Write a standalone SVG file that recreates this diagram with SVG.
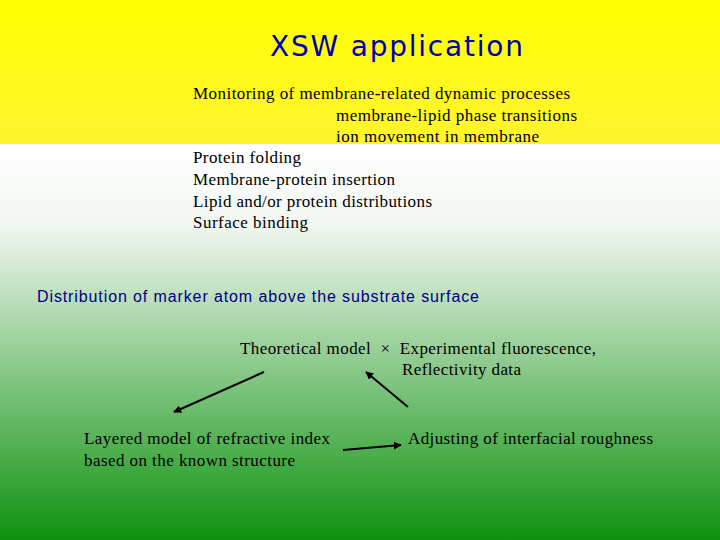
<svg xmlns="http://www.w3.org/2000/svg" width="720" height="540" viewBox="0 0 720 540">
<defs>
<linearGradient id="y" x1="0" y1="0" x2="0" y2="1"><stop offset="0" stop-color="#ffff00"/><stop offset="1" stop-color="#fff430"/></linearGradient>
<linearGradient id="g" x1="0" y1="0" x2="0" y2="1"><stop offset="0" stop-color="#ffffff"/><stop offset="0.2" stop-color="#f2f7f2"/><stop offset="1" stop-color="#0e920e"/></linearGradient>
<marker id="a" viewBox="0 0 10 10" refX="9" refY="5" markerWidth="4" markerHeight="4" orient="auto"><path d="M0,0L10,5L0,10z" fill="#000"/></marker>
</defs>
<style>.t{font-family:"Liberation Serif",serif;font-size:17px;fill:#000}.c{stroke:#000;stroke-width:2;fill:none;marker-end:url(#a)}</style>
<rect width="720" height="144" fill="url(#y)"/>
<rect y="144" width="720" height="396" fill="url(#g)"/>
<text x="270" y="56" textLength="253" lengthAdjust="spacing" font-family="DejaVu Sans, sans-serif" font-size="28" fill="#0000b0">XSW application</text>
<g id="list">
<text x="193" y="99" class="t" textLength="377">Monitoring of membrane-related dynamic processes</text>
<text x="336" y="121" class="t" textLength="241">membrane-lipid phase transitions</text>
<text x="336" y="142" class="t" textLength="203">ion movement in membrane</text>
<text x="193" y="163" class="t" textLength="108">Protein folding</text>
<text x="193" y="185" class="t" textLength="202">Membrane-protein insertion</text>
<text x="193" y="207" class="t" textLength="239">Lipid and/or protein distributions</text>
<text x="193" y="228" class="t" textLength="115">Surface binding</text>
</g>
<text x="37" y="302" textLength="442" font-family="Liberation Sans, sans-serif" font-size="16" fill="#000080">Distribution of marker atom above the substrate surface</text>
<g id="theory"><text x="240" y="354" class="t" textLength="356" xml:space="preserve">Theoretical model  ×  Experimental fluorescence,</text></g>
<g id="refl"><text x="402" y="375" class="t" textLength="119">Reflectivity data</text></g>
<g id="layered"><text x="84" y="444" class="t" textLength="246">Layered model of refractive index</text><text x="84" y="466" class="t" textLength="211">based on the known structure</text></g>
<g id="adjust"><text x="408" y="444" class="t" textLength="245">Adjusting of interfacial roughness</text></g>
<g id="connectors">
<line class="c" x1="264" y1="372" x2="174" y2="412"/>
<line class="c" x1="408" y1="407" x2="366" y2="372"/>
<line class="c" x1="343" y1="450" x2="401" y2="445"/>
</g>
</svg>
